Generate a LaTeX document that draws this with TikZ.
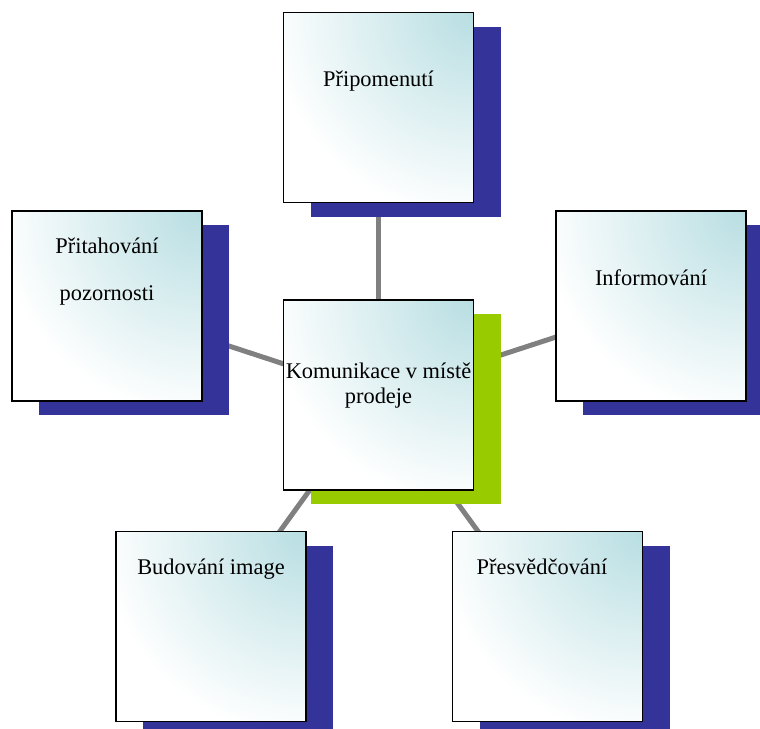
\documentclass[tikz,border=0pt]{standalone}
\usepackage{fontspec}
\setmainfont{Liberation Serif}
\usetikzlibrary{shadows, backgrounds}

\definecolor{boxteal}{RGB}{184,222,226}
\definecolor{shadowblue}{RGB}{51,51,153}
\definecolor{shadowgreen}{RGB}{153,204,0}
\definecolor{linkgray}{RGB}{128,128,128}

\begin{document}
\begin{tikzpicture}[x=1pt, y=-1pt,
    box/.style={draw=black, line width=1.6pt, minimum width=190pt, minimum height=190pt, inner sep=0pt, fill=white,
      path picture={\shade[inner color=boxteal, outer color=white] (path picture bounding box.north east) circle (205pt);}},
    blueshadow/.style={general shadow={fill=shadowblue, shadow xshift=27pt, shadow yshift=-14pt}},
    greenshadow/.style={general shadow={fill=shadowgreen, shadow xshift=27pt, shadow yshift=-14pt}},
    lbl/.style={anchor=base, align=center, font=\fontsize{22.4}{25}\selectfont, inner sep=0pt},
    link/.style={draw=linkgray, line width=5pt}]
  \useasboundingbox (0,0) rectangle (760,728);
  \clip (0,0) rectangle (760,728);

  % boxes
  \node[box, blueshadow] (remind) at (378.5,107.5) {};
  \node[box, blueshadow] (attract) at (107,306) {};
  \node[box, blueshadow] (inform) at (651,306) {};
  \node[box, blueshadow] (image) at (211,626.5) {};
  \node[box, blueshadow] (persuade) at (547.5,626.5) {};
  \node[box, greenshadow] (hub) at (378.5,395) {};

  % texts (base = last line)
  \node[lbl] (remindtxt) at (378.5,86) {Připomenutí};
  \node[lbl] (hubtxt) at (378.5,403) {Komunikace v místě\\prodeje};
  \node[lbl, font=\fontsize{22.4}{47}\selectfont] (attracttxt) at (107,300) {Přitahování\\pozornosti};
  \node[lbl] (informtxt) at (651,285) {Informování};
  \node[lbl] (imagetxt) at (211,574) {Budování image};
  \node[lbl] (persuadetxt) at (542,574) {Přesvědčování};

  % links behind everything
  \begin{scope}[on background layer]
    \draw[link] (hub.center) -- (remind.center);
    \draw[link] (hub.center) -- (attract.center);
    \draw[link] (hub.center) -- (inform.center);
    \draw[link] (hub.center) -- (image.center);
    \draw[link] (hub.center) -- (persuade.center);
  \end{scope}
\end{tikzpicture}
\end{document}
